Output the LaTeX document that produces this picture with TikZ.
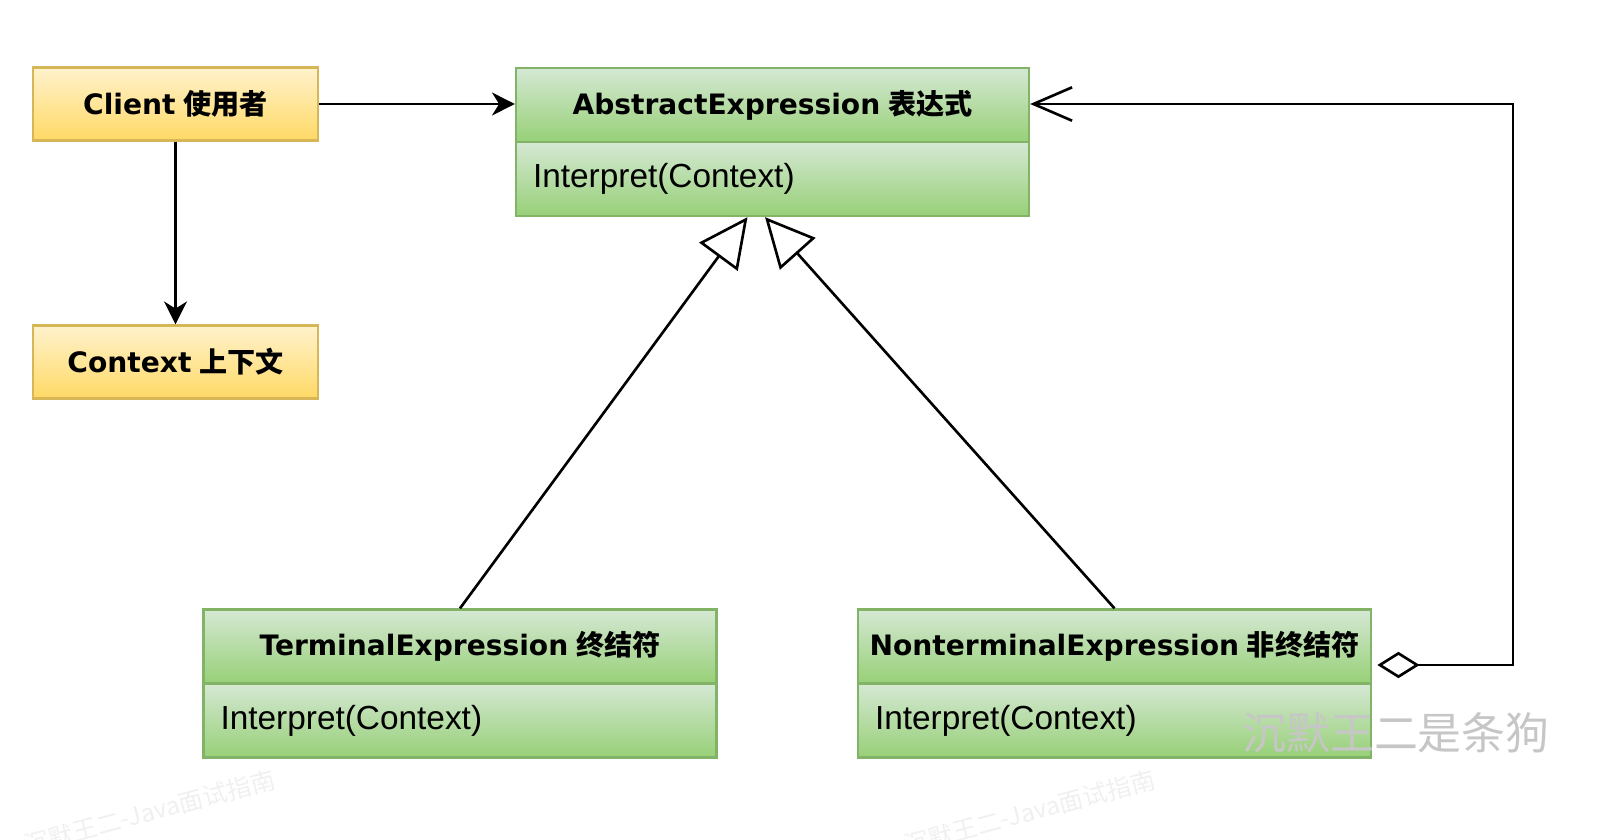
\documentclass[tikz,border=0pt]{standalone}
\usepackage{fontspec}
\setmainfont{Liberation Sans}
\newfontfamily\hdfont{DejaVu Sans}
\newfontfamily\cjk{Noto Sans CJK SC}
\usetikzlibrary{arrows.meta, positioning}

\definecolor{grtop}{HTML}{D5E8D4}
\definecolor{grbot}{HTML}{97D077}
\definecolor{grline}{HTML}{82B366}
\definecolor{yltop}{HTML}{FFF2CC}
\definecolor{ylbot}{HTML}{FFD966}
\definecolor{ylline}{HTML}{D6B656}

\newcommand{\clsname}[2]{{\hdfont\bfseries #1}~{\cjk\bfseries #2}}

\begin{document}
\begin{tikzpicture}[
    x=0.02cm, y=-0.02cm,
    line width=1.5pt,
    user/.style={draw=ylline,line width=1.3pt,top color=yltop,bottom color=ylbot,minimum width=5.7cm,minimum height=1.46cm,inner sep=0pt,font=\fontsize{16}{18}\selectfont},
    cls/.style={draw=grline,line width=1.3pt,top color=grtop,bottom color=grbot,minimum width=10.26cm,minimum height=1.48cm,inner sep=0pt,font=\fontsize{16}{18}\selectfont},
    op/.style={cls,font=\fontsize{19}{22}\selectfont,text width=9.58cm,align=left},
    dep/.style={draw,-{Stealth[length=13pt,width=13pt,inset=4pt]}},
    gen/.style={draw,-{Triangle[open,length=28pt,width=27pt]}},
    agg/.style={draw,{Diamond[open,length=24pt,width=15pt]}-{Straight Barb[length=22pt,width=19pt]},shorten <=3pt},
    wmark/.style={text=gray!45,font=\cjk\fontsize{25}{28}\selectfont},
    faint/.style={text=gray!12,font=\cjk\fontsize{14}{16}\selectfont,rotate=15}]
  \useasboundingbox (0,0) rectangle (1609,839);
  \node[user] (client) at (175.5,104) {\clsname{Client}{使用者}};
  \node[user] (context) at (175.5,362) {\clsname{Context}{上下文}};
  \node[cls] (abs) at (772.5,105) {\clsname{AbstractExpression}{表达式}};
  \node[op] (absop) at (772.5,179) {Interpret(Context)};
  \node[cls] (term) at (460,646.5) {\clsname{TerminalExpression}{终结符}};
  \node[op] (termop) at (460,720.5) {Interpret(Context)};
  \node[cls] (nonterm) at (1114.5,646.5) {\clsname{NonterminalExpression}{非终结符}};
  \node[op] (nontermop) at (1114.5,720.5) {Interpret(Context)};
  \draw[dep] (client.east) -- (client.east -| abs.west);
  \draw[dep] (client.south) -- (context.north);
  \draw[gen] (term.north) -- ([xshift=-0.5cm]absop.south);
  \draw[gen] (nonterm.north) -- ([xshift=-0.15cm]absop.south);
  \coordinate (aggdown) at (1513,665);
  \coordinate (aggup) at (1513,104);
  \draw[agg] (aggdown -| nonterm.east) -- (aggdown) -- (aggup) -- (aggup -| abs.east);
  \node[wmark] (wm) at (1396,733) {沉默王二是条狗};
  \node[faint] (wmleft) at (150,812) {沉默王二-Java面试指南};
  \node[faint] (wmright) at (1030,812) {沉默王二-Java面试指南};
\end{tikzpicture}
\end{document}
